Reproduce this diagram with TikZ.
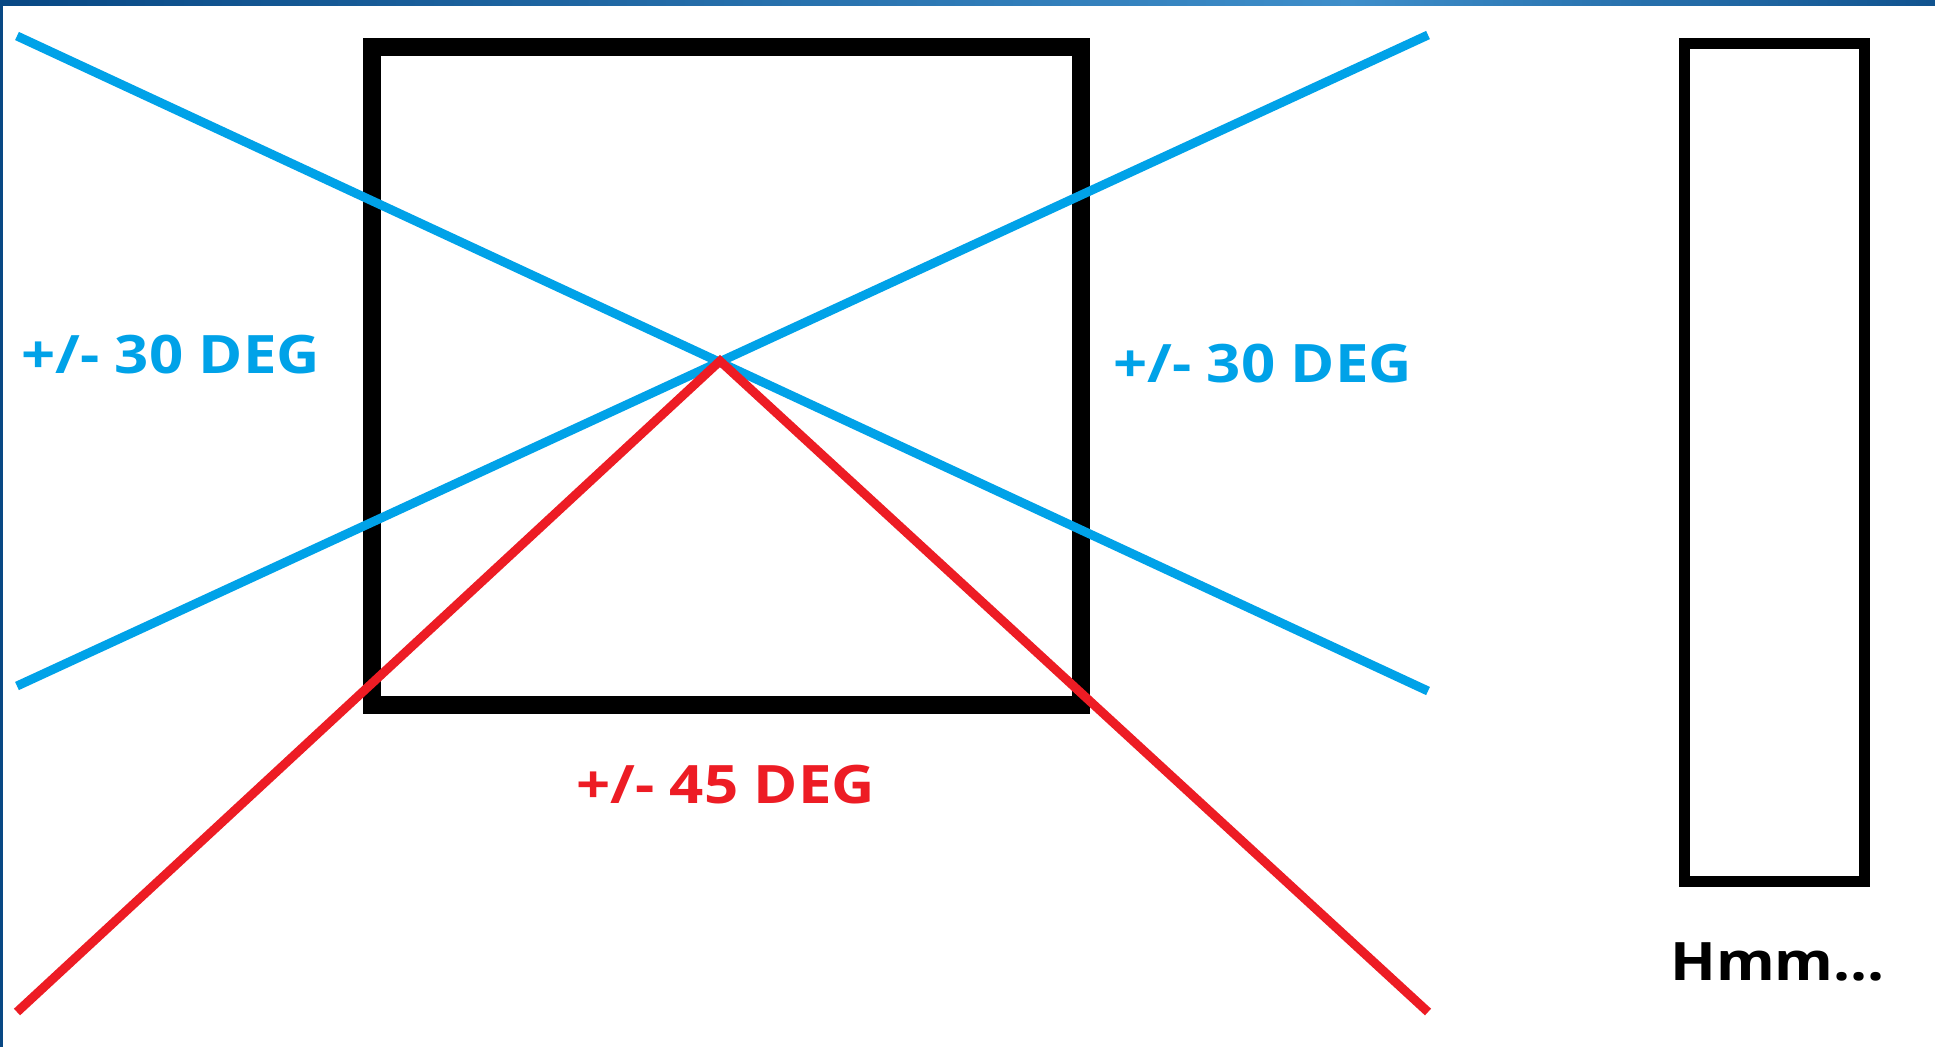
\documentclass[tikz,border=0pt]{standalone}
\usepackage{fontspec}
\setmainfont{Open Sans}[FakeStretch=1.13]

\definecolor{paintblue}{RGB}{0,162,232}
\definecolor{paintred}{RGB}{237,28,36}
\definecolor{bardark}{RGB}{8,72,132}
\definecolor{barlight}{RGB}{62,142,202}

\begin{document}
\begin{tikzpicture}[
  x=1pt, y=-1pt,
  label/.style={anchor=base west, inner sep=0pt, font=\bfseries\fontsize{53}{60}\selectfont},
  ray/.style={line width=9pt},
  frame/.style={draw=black, line width=17.5pt},
  slab/.style={draw=black, line width=11pt}
]
\useasboundingbox (0,0) rectangle (1935,1047);
\fill[white] (0,0) rectangle (1935,1047);

% window edge
\shade[left color=bardark, right color=barlight] (0,0) rectangle (1350,5.5);
\shade[left color=barlight, right color=bardark!85!barlight] (1350,0) rectangle (1935,5.5);
\fill[bardark] (0,0) rectangle (3,1047);

\coordinate (apex) at (720,361);
\coordinate (blueA1) at (17,36);
\coordinate (blueA2) at (1428,691);
\coordinate (blueB1) at (17,686);
\coordinate (blueB2) at (1428,35);
\coordinate (redL) at (17,1012);
\coordinate (redR) at (1428,1012);

\draw[frame] (372,47) rectangle (1081,705);
\draw[slab] (1684.5,43.5) rectangle (1864.5,881);

\draw[ray, paintblue] (blueA1) -- (blueA2);
\draw[ray, paintblue] (blueB1) -- (blueB2);
\draw[ray, paintred] (redL) -- (apex) -- (redR);

\node[label, text=paintblue] (leftdeg) at (21,373) {+/- 30 DEG};
\node[label, text=paintblue] (rightdeg) at (1113,382) {+/- 30 DEG};
\node[label, text=paintred] (reddeg) at (576,803) {+/- 45 DEG};
\node[label, text=black] (hmm) at (1670,980) {Hmm...};

\end{tikzpicture}
\end{document}
